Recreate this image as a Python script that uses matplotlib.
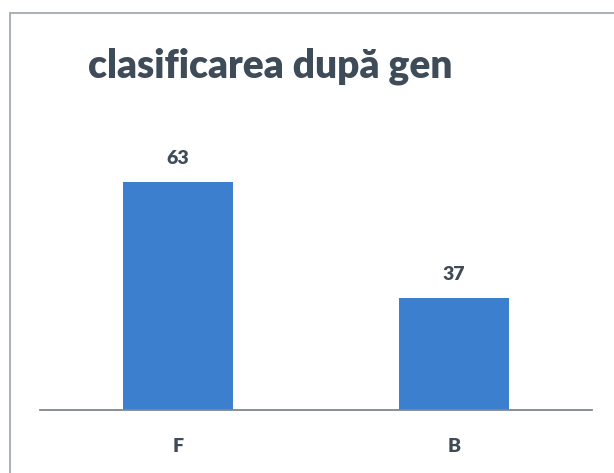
import matplotlib.pyplot as plt
from matplotlib.patches import Rectangle

# data
categories = ["F", "B"]
values = [63, 37]
title = "clasificarea după gen"

plt.rcParams['font.family'] = ['Lato', 'DejaVu Sans']
text_color = "#3e4b58"
bar_color = "#3c7fcf"

fig = plt.figure(figsize=(6.14, 4.73), dpi=100)

# outer chart border (cut off on the right/bottom like the scan)
fig.patches.append(Rectangle((10 / 614, -0.05), 1.0, 1 - 13 / 473 + 0.05,
                             transform=fig.transFigure, fill=False,
                             edgecolor="#9aa3ad", linewidth=1.2))

ax = fig.add_axes([40 / 614, 1 - 410 / 473, 552 / 614, 280 / 473])
x = range(len(categories))
bars = ax.bar(x, values, width=0.40, color=bar_color)

ax.set_xlim(-0.5, 1.5)
ax.set_ylim(11.9, 74.7)

for b, v in zip(bars, values):
    ax.annotate(str(v), (b.get_x() + b.get_width() / 2, v), xytext=(0, 11),
                textcoords="offset points", ha="center", va="bottom",
                fontsize=14, fontweight="heavy", color=text_color)

ax.set_xticks(list(x))
ax.set_xticklabels(categories, fontsize=14, fontweight="heavy", color=text_color)
ax.tick_params(axis="x", length=0, pad=20)
ax.set_yticks([])
for s in ["left", "right", "top"]:
    ax.spines[s].set_visible(False)
ax.spines["bottom"].set_color("#7f8790")
ax.spines["bottom"].set_linewidth(1.3)

fig.text(270 / 614, 1 - 66 / 473, title, ha="center", va="center",
         fontsize=28, fontweight="heavy", color=text_color)

fig.savefig("out.png", dpi=100)
